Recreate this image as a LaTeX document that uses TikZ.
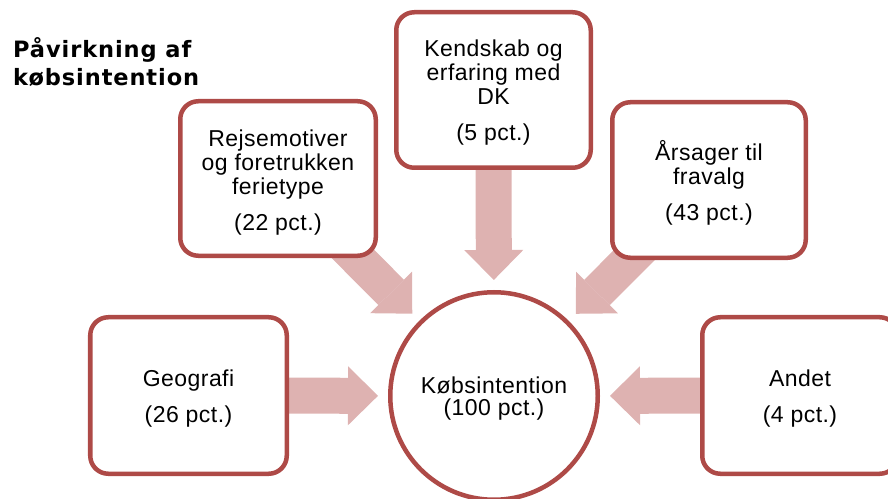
\documentclass[tikz,border=0pt]{standalone}
\usepackage{fontspec}
\setmainfont{Liberation Sans}[LetterSpace=2]
\newfontfamily\titlefont{DejaVu Sans}[LetterSpace=4]
\usetikzlibrary{arrows.meta,backgrounds}
\definecolor{bordred}{RGB}{174,74,71}
\definecolor{arrpink}{RGB}{222,178,177}
\begin{document}
\begin{tikzpicture}[x=1bp,y=-1bp,
  box/.style={draw=bordred, line width=4.5bp, fill=white, rounded corners=18bp,
    inner sep=0pt},
  circbox/.style={draw=bordred, line width=4.5bp, fill=white, circle,
    inner sep=0pt},
  boxtext/.style={align=center, inner sep=0pt, font=\fontsize{23bp}{24bp}\selectfont},
  circtext/.style={align=center, inner sep=0pt, font=\fontsize{23bp}{22bp}\selectfont},
  blockarr/.style={draw=arrpink, line width=36bp,
    -{Triangle[length=30bp,width=59bp,line width=0pt]}, shorten >=10bp},
  titlestyle/.style={anchor=base west, align=left, inner sep=0pt,
    font=\titlefont\bfseries\fontsize{22.5bp}{28bp}\selectfont}
]
\useasboundingbox (0,0) rectangle (888,499);

\node[titlestyle] (title) at (13,86) {Påvirkning af\\købsintention};

\node[box, minimum width=195.5bp, minimum height=154.5bp] (rejs) at (278,178.5) {};
\node[box, minimum width=194.5bp, minimum height=155.5bp] (kend) at (493.5,90) {};
\node[box, minimum width=193.5bp, minimum height=155.5bp] (aars) at (709,180) {};
\node[box, minimum width=196.5bp, minimum height=156.5bp] (geo) at (188.5,395.5) {};
\node[box, minimum width=195.5bp, minimum height=156.5bp] (andet) at (800,395.5) {};
\node[circbox, minimum size=207.5bp] (circ) at (494,396) {};

\node[boxtext] (rejst) at ([yshift=-4bp]rejs.center)
  {Rejsemotiver\\og foretrukken\\ferietype\\[12bp](22 pct.)};
\node[boxtext] (kendt) at ([yshift=-3bp]kend.center)
  {Kendskab og\\erfaring med\\DK\\[12bp](5 pct.)};
\node[boxtext] (aarst) at ([yshift=-3bp]aars.center)
  {Årsager til\\fravalg\\[12bp](43 pct.)};
\node[boxtext] (geot) at ([yshift=-3bp]geo.center)
  {Geografi\\[12bp](26 pct.)};
\node[boxtext] (andett) at ([yshift=-3bp]andet.center)
  {Andet\\[12bp](4 pct.)};
\node[circtext] (circt) at ([yshift=-2.5bp]circ.center)
  {Købsintention\\(100 pct.)};

\begin{scope}[on background layer]
  \draw[blockarr] (geo.center) -- (circ);
  \draw[blockarr] (andet.center) -- (circ);
  \draw[blockarr] (kend.center) -- (circ);
  \draw[blockarr] (rejs.center) -- (circ);
  \draw[blockarr] (aars.center) -- (circ);
\end{scope}
\end{tikzpicture}
\end{document}
